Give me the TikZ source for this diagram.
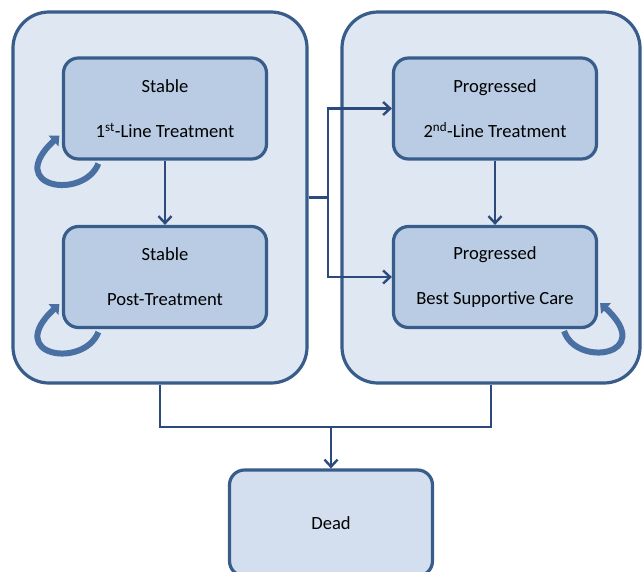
\documentclass[tikz,border=0pt]{standalone}
\usepackage{fontspec}
\setmainfont{Carlito}
\usetikzlibrary{arrows.meta}
\definecolor{bigfill}{HTML}{DEE7F2}
\definecolor{innerfill}{HTML}{B9CCE4}
\definecolor{deadfill}{HTML}{D3DFEF}
\definecolor{edge}{HTML}{385D8A}
\definecolor{conn}{HTML}{2C4A7C}
\definecolor{loopc}{HTML}{4A6FA3}
\begin{document}
\begin{tikzpicture}[x=1pt,y=-1pt,
  bigbox/.style={draw=edge, fill=bigfill, line width=3.2pt, rounded corners=36pt, inner sep=0pt},
  statebox/.style={draw=edge, fill=innerfill, line width=3.2pt, rounded corners=15pt, inner sep=0pt,
    minimum width=203pt, minimum height=101pt, align=center, font=\fontsize{18.6}{22}\selectfont},
  conarrow/.style={draw=conn, line width=2.4pt, -{Straight Barb[length=7pt,width=13pt,line width=2.4pt]}},
  conline/.style={draw=conn, line width=2.4pt},
  selfloop/.style={draw=loopc, line width=6pt, -{Triangle[length=8pt,width=14pt]}}]
\clip (0,0) rectangle (642,571);
\useasboundingbox (0,0) rectangle (642,571);
\fill[white] (0,0) rectangle (642,571);
\node[bigbox, minimum width=294pt, minimum height=371pt] (L) at (160,197.5) {};
\node[bigbox, minimum width=298pt, minimum height=371pt] (R) at (491,197.5) {};
\node[statebox] (S1) at (165,108.5) {Stable\\[23pt]1\textsuperscript{st}-Line Treatment};
\node[statebox] (S2) at (165,277) {Stable\\[23pt]Post-Treatment};
\node[statebox] (P1) at (495,108.5) {Progressed\\[23pt]2\textsuperscript{nd}-Line Treatment};
\node[statebox] (P2) at (495,277) {Progressed\\[23pt]Best Supportive Care};
\node[statebox, fill=deadfill, minimum height=106pt] (D) at (331,523) {Dead};
\coordinate (j) at (328,197.5);
\coordinate (m) at (331,427);
\draw[conarrow] (S1) -- (S2);
\draw[conarrow] (P1) -- (P2);
\draw[conline] (L.east) -- (j);
\draw[conarrow] (j) |- (P1.west);
\draw[conarrow] (j) |- (P2.west);
\draw[conline] (L.south) |- (m);
\draw[conline] (R.south) |- (m);
\draw[conarrow] (m) -- (D.north);
\draw[selfloop] ([shift={(36.5,3)}]S1.south west) .. controls ([shift={(21.5,40)}]S1.south west) and ([shift={(-58.5,27)}]S1.south west) .. ([shift={(-2.5,-25)}]S1.south west);
\draw[selfloop] ([shift={(36.5,3)}]S2.south west) .. controls ([shift={(21.5,40)}]S2.south west) and ([shift={(-58.5,27)}]S2.south west) .. ([shift={(-2.5,-25)}]S2.south west);
\draw[selfloop] ([shift={(-34,2)}]P2.south east) .. controls ([shift={(-21.5,39)}]P2.south east) and ([shift={(58.5,26)}]P2.south east) .. ([shift={(2,-26)}]P2.south east);
\end{tikzpicture}
\end{document}
